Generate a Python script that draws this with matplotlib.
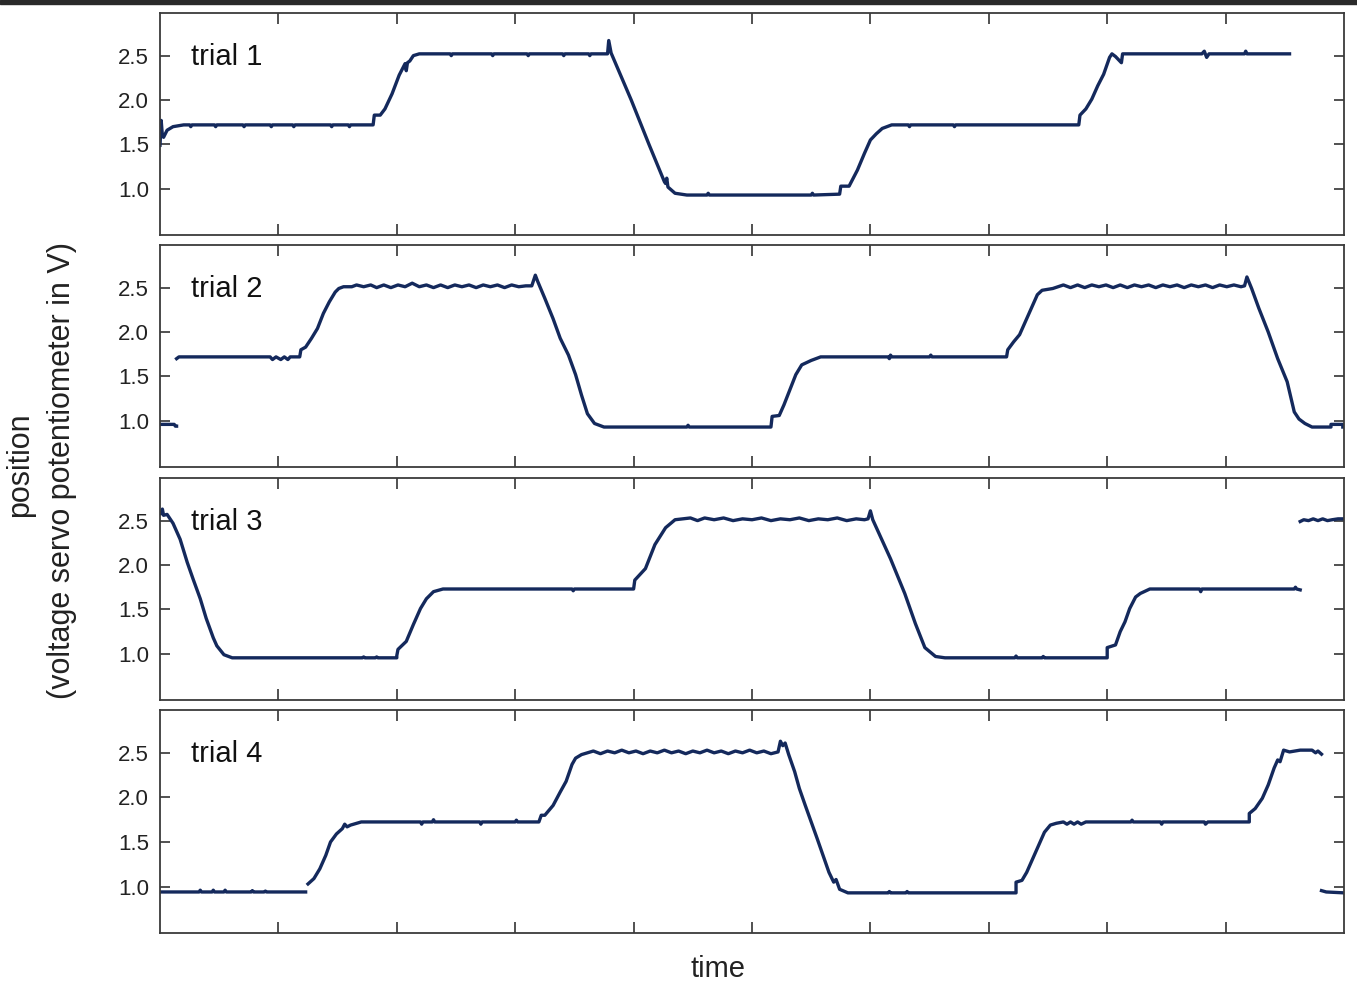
import numpy as np
import matplotlib
matplotlib.use("Agg")
import matplotlib.pyplot as plt
from matplotlib.patches import Rectangle

plt.rcParams['font.family'] = ['Liberation Sans', 'DejaVu Sans']

nan = np.nan

# servo position (x: time in axis units 0..10, y: volts)
trial1 = [
    (0.00, 1.49), (0.01, 1.77), (0.02, 1.60), (0.03, 1.58), (0.06, 1.66), (0.11, 1.70),
    (0.20, 1.72), (0.25, 1.72), (0.26, 1.70), (0.27, 1.72), (0.46, 1.72), (0.47, 1.70),
    (0.48, 1.72), (0.70, 1.72), (0.71, 1.70), (0.72, 1.72), (0.93, 1.72), (0.94, 1.70),
    (0.95, 1.72), (1.12, 1.72), (1.13, 1.70), (1.14, 1.72), (1.44, 1.72), (1.45, 1.70),
    (1.46, 1.72), (1.59, 1.72), (1.60, 1.70), (1.61, 1.72), (1.80, 1.72), (1.81, 1.83),
    (1.86, 1.83), (1.90, 1.90), (1.96, 2.07), (2.02, 2.28), (2.07, 2.41), (2.08, 2.33),
    (2.09, 2.42), (2.11, 2.44), (2.14, 2.50), (2.19, 2.52), (2.45, 2.52), (2.46, 2.50),
    (2.47, 2.52), (2.80, 2.52), (2.81, 2.50), (2.82, 2.52), (3.10, 2.52), (3.11, 2.50),
    (3.12, 2.52), (3.40, 2.52), (3.41, 2.50), (3.42, 2.52), (3.62, 2.52), (3.63, 2.50),
    (3.64, 2.52), (3.78, 2.52), (3.79, 2.67), (3.81, 2.53), (3.98, 2.00), (4.13, 1.50),
    (4.26, 1.08), (4.27, 1.06), (4.28, 1.12), (4.29, 1.02), (4.35, 0.95), (4.45, 0.93),
    (4.62, 0.93), (4.63, 0.95), (4.64, 0.93), (5.50, 0.93), (5.51, 0.95), (5.52, 0.93),
    (5.74, 0.94), (5.75, 1.03), (5.82, 1.03), (5.89, 1.21), (5.95, 1.40), (6.00, 1.55),
    (6.05, 1.62), (6.10, 1.68), (6.18, 1.72), (6.32, 1.72), (6.33, 1.70), (6.34, 1.72),
    (6.70, 1.72), (6.71, 1.70), (6.72, 1.72), (7.76, 1.72), (7.77, 1.83), (7.82, 1.90),
    (7.87, 2.01), (7.92, 2.16), (7.97, 2.29), (8.02, 2.48), (8.04, 2.52), (8.07, 2.49),
    (8.12, 2.42), (8.13, 2.52), (8.80, 2.52), (8.82, 2.55), (8.84, 2.48), (8.86, 2.52),
    (9.16, 2.52), (9.17, 2.55), (9.18, 2.52), (9.54, 2.52),
]

trial2 = [
    (0.00, 0.96), (0.12, 0.96), (0.13, 0.94), (0.14, 0.94), (nan, nan),
    (0.14, 1.70), (0.16, 1.72), (0.93, 1.72), (0.95, 1.69), (0.98, 1.72), (1.02, 1.69),
    (1.05, 1.72), (1.08, 1.69), (1.10, 1.72), (1.18, 1.72), (1.19, 1.80), (1.23, 1.83),
    (1.28, 1.93), (1.33, 2.04), (1.38, 2.21), (1.43, 2.34), (1.48, 2.45), (1.51, 2.49),
    (1.55, 2.51), (1.62, 2.51), (1.66, 2.53), (1.72, 2.51), (1.78, 2.53), (1.83, 2.50),
    (1.89, 2.53), (1.95, 2.50), (2.01, 2.53), (2.07, 2.51), (2.13, 2.55), (2.19, 2.51),
    (2.25, 2.53), (2.31, 2.50), (2.37, 2.53), (2.43, 2.50), (2.49, 2.53), (2.55, 2.51),
    (2.61, 2.53), (2.67, 2.50), (2.73, 2.53), (2.79, 2.51), (2.85, 2.53), (2.91, 2.50),
    (2.97, 2.53), (3.03, 2.51), (3.09, 2.52), (3.14, 2.52), (3.17, 2.64), (3.19, 2.57),
    (3.25, 2.38), (3.32, 2.15), (3.38, 1.93), (3.45, 1.74), (3.51, 1.52), (3.56, 1.29),
    (3.61, 1.08), (3.67, 0.97), (3.75, 0.93), (4.45, 0.93), (4.46, 0.95), (4.47, 0.93),
    (5.16, 0.93), (5.17, 1.05), (5.23, 1.06), (5.27, 1.18), (5.32, 1.35), (5.37, 1.52),
    (5.42, 1.63), (5.50, 1.68), (5.58, 1.72), (6.15, 1.72), (6.16, 1.70), (6.17, 1.74),
    (6.18, 1.72), (6.50, 1.72), (6.51, 1.74), (6.52, 1.72), (7.15, 1.72), (7.16, 1.80),
    (7.21, 1.89), (7.26, 1.97), (7.31, 2.12), (7.36, 2.27), (7.41, 2.42), (7.45, 2.47),
    (7.54, 2.49), (7.63, 2.53), (7.69, 2.50), (7.75, 2.53), (7.81, 2.50), (7.87, 2.53),
    (7.93, 2.51), (7.99, 2.53), (8.05, 2.50), (8.11, 2.53), (8.17, 2.50), (8.23, 2.53),
    (8.29, 2.51), (8.35, 2.53), (8.41, 2.50), (8.47, 2.53), (8.53, 2.51), (8.59, 2.53),
    (8.65, 2.50), (8.71, 2.53), (8.77, 2.51), (8.83, 2.53), (8.89, 2.50), (8.95, 2.53),
    (9.01, 2.51), (9.07, 2.53), (9.13, 2.51), (9.16, 2.52), (9.18, 2.62), (9.22, 2.49),
    (9.28, 2.27), (9.36, 2.00), (9.44, 1.70), (9.52, 1.44), (9.58, 1.10), (9.62, 1.02),
    (9.67, 0.97), (9.73, 0.93), (9.89, 0.93), (9.89, 0.96), (9.99, 0.96), (9.99, 0.93),
]

trial3 = [
    (0.01, 2.58), (0.02, 2.63), (0.03, 2.56), (0.06, 2.57), (0.11, 2.47), (0.17, 2.29),
    (0.23, 2.03), (0.28, 1.84), (0.34, 1.62), (0.39, 1.40), (0.45, 1.18), (0.48, 1.09),
    (0.54, 0.99), (0.61, 0.955), (1.71, 0.955), (1.72, 0.965), (1.73, 0.955), (1.82, 0.955),
    (1.83, 0.965), (1.84, 0.955), (2.00, 0.955), (2.00, 0.98), (2.01, 1.05), (2.08, 1.14),
    (2.14, 1.33), (2.20, 1.51), (2.25, 1.62), (2.31, 1.70), (2.39, 1.73), (3.48, 1.73),
    (3.49, 1.71), (3.50, 1.73), (4.00, 1.73), (4.01, 1.83), (4.10, 1.96), (4.18, 2.23),
    (4.27, 2.42), (4.35, 2.51), (4.48, 2.53), (4.54, 2.50), (4.60, 2.53), (4.68, 2.51),
    (4.76, 2.53), (4.84, 2.50), (4.92, 2.52), (5.00, 2.51), (5.08, 2.53), (5.16, 2.50),
    (5.24, 2.52), (5.32, 2.51), (5.40, 2.53), (5.48, 2.50), (5.56, 2.52), (5.64, 2.51),
    (5.72, 2.53), (5.80, 2.50), (5.88, 2.52), (5.95, 2.51), (5.98, 2.52), (6.00, 2.61),
    (6.02, 2.51), (6.17, 2.07), (6.29, 1.68), (6.38, 1.34), (6.46, 1.07), (6.55, 0.97),
    (6.63, 0.955), (7.22, 0.955), (7.23, 0.975), (7.24, 0.955), (7.45, 0.955), (7.46, 0.97),
    (7.47, 0.955), (8.00, 0.955), (8.00, 1.07), (8.07, 1.10), (8.11, 1.25), (8.15, 1.36),
    (8.19, 1.51), (8.24, 1.64), (8.28, 1.68), (8.36, 1.73), (8.78, 1.73), (8.79, 1.70),
    (8.80, 1.73), (9.58, 1.73), (9.59, 1.75), (9.60, 1.73), (9.63, 1.72), (nan, nan),
    (9.63, 2.49), (9.66, 2.51), (9.70, 2.50), (9.74, 2.52), (9.78, 2.50), (9.82, 2.52),
    (9.86, 2.50), (9.90, 2.51), (9.95, 2.52), (10.0, 2.52),
]

trial4 = [
    (0.00, 0.94), (0.33, 0.94), (0.34, 0.96), (0.35, 0.94), (0.44, 0.94), (0.45, 0.96),
    (0.46, 0.94), (0.54, 0.94), (0.55, 0.96), (0.56, 0.94), (0.77, 0.94), (0.78, 0.955),
    (0.79, 0.94), (0.88, 0.94), (0.89, 0.95), (0.90, 0.94), (1.23, 0.94), (nan, nan),
    (1.25, 1.03), (1.30, 1.09), (1.35, 1.20), (1.40, 1.35), (1.44, 1.50), (1.49, 1.59),
    (1.54, 1.65), (1.56, 1.70), (1.58, 1.67), (1.61, 1.69), (1.70, 1.725), (2.20, 1.725),
    (2.21, 1.70), (2.22, 1.725), (2.30, 1.725), (2.31, 1.75), (2.32, 1.725), (2.70, 1.725),
    (2.71, 1.70), (2.72, 1.725), (3.00, 1.725), (3.01, 1.745), (3.02, 1.725), (3.20, 1.725),
    (3.22, 1.80), (3.25, 1.80), (3.32, 1.91), (3.38, 2.06), (3.43, 2.18), (3.48, 2.37),
    (3.51, 2.44), (3.56, 2.48), (3.61, 2.50), (3.66, 2.52), (3.72, 2.49), (3.78, 2.52),
    (3.84, 2.50), (3.90, 2.53), (3.96, 2.50), (4.02, 2.52), (4.08, 2.49), (4.14, 2.52),
    (4.20, 2.50), (4.26, 2.53), (4.32, 2.50), (4.38, 2.52), (4.44, 2.49), (4.50, 2.52),
    (4.56, 2.50), (4.62, 2.53), (4.68, 2.50), (4.74, 2.52), (4.80, 2.49), (4.86, 2.52),
    (4.92, 2.50), (4.98, 2.53), (5.04, 2.50), (5.10, 2.52), (5.16, 2.49), (5.22, 2.51),
    (5.24, 2.63), (5.26, 2.58), (5.28, 2.61), (5.31, 2.48), (5.36, 2.29), (5.40, 2.10),
    (5.45, 1.91), (5.50, 1.725), (5.55, 1.54), (5.60, 1.35), (5.65, 1.16), (5.69, 1.05),
    (5.71, 1.08), (5.74, 0.97), (5.81, 0.93), (6.15, 0.93), (6.16, 0.945), (6.17, 0.93),
    (6.30, 0.93), (6.31, 0.945), (6.32, 0.93), (7.23, 0.93), (7.23, 1.05), (7.28, 1.07),
    (7.32, 1.16), (7.37, 1.31), (7.42, 1.46), (7.47, 1.61), (7.52, 1.69), (7.57, 1.71),
    (7.63, 1.725), (7.66, 1.70), (7.69, 1.725), (7.72, 1.70), (7.75, 1.725), (7.78, 1.70),
    (7.82, 1.725), (8.20, 1.725), (8.21, 1.745), (8.22, 1.725), (8.45, 1.725), (8.46, 1.70),
    (8.47, 1.725), (8.82, 1.725), (8.83, 1.70), (8.85, 1.725), (9.20, 1.725), (9.20, 1.82),
    (9.25, 1.875), (9.31, 1.99), (9.36, 2.14), (9.41, 2.33), (9.44, 2.42), (9.46, 2.40),
    (9.49, 2.53), (9.54, 2.51), (9.63, 2.53), (9.73, 2.53), (9.76, 2.50), (9.78, 2.52),
    (9.81, 2.485), (nan, nan), (9.81, 0.955), (9.85, 0.94), (10.0, 0.93),
]

trials = [trial1, trial2, trial3, trial4]
names = ["trial 1", "trial 2", "trial 3", "trial 4"]
yticks = [1.0, 1.5, 2.0, 2.5]
xticks = [1, 2, 3, 4, 5, 6, 7, 8, 9]

W, H = 1357, 983
fig = plt.figure(figsize=(W / 100, H / 100), dpi=100)

# noisy strip at the very top of the source image
fig.patches.append(Rectangle((0, 1 - 4 / H), 1, 4 / H, transform=fig.transFigure,
                             color="#2a2a2a", zorder=0))

panels = [(13, 235), (245, 467), (478, 700), (710, 933)]
line_col = "#14295c"
spine_col = "#3a3a3a"

for (top, bot), tr, nm in zip(panels, trials, names):
    ax = fig.add_axes([160 / W, 1 - bot / H, 1184 / W, (bot - top) / H])
    xs = [p[0] for p in tr]
    ys = [p[1] for p in tr]
    ax.plot(xs, ys, color=line_col, lw=2.4)
    ax.set_xlim(0, 10)
    ax.set_ylim(0.48, 2.98)
    ax.set_xticks(xticks)
    ax.set_xticklabels([])
    ax.set_yticks(yticks)
    ax.set_yticklabels(["%.1f" % v for v in yticks])
    ax.tick_params(axis="x", direction="in", top=True, bottom=True, length=8,
                   width=1.1, color="#222222")
    ax.tick_params(axis="y", direction="in", left=True, right=True, length=7,
                   width=1.1, color="#222222", labelsize=16, pad=8,
                   labelcolor="#222222")
    for s in ax.spines.values():
        s.set_color(spine_col)
        s.set_linewidth(1.3)
    ax.text(0.026, 2.49, nm, transform=ax.get_yaxis_transform(), fontsize=21,
            va="center", ha="left", color="#111111")

fig.text(20 / W, 1 - 465 / H, "position", rotation=90, fontsize=22,
         ha="center", va="center", color="#222222")
fig.text(62 / W, 1 - 470 / H, "(voltage servo potentiometer in V)", rotation=90,
         fontsize=22, ha="center", va="center", color="#222222")
fig.text(718 / W, 1 - 969 / H, "time", fontsize=21, ha="center", va="center",
         color="#222222")

fig.savefig("out.png", dpi=100)
